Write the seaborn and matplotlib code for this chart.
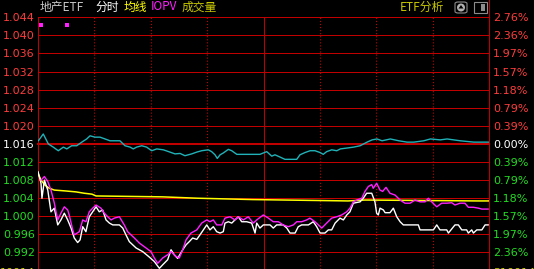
import matplotlib
matplotlib.use("Agg")
import matplotlib.pyplot as plt
import seaborn as sns
from matplotlib.patches import FancyBboxPatch, Rectangle, Ellipse, Polygon
from matplotlib.lines import Line2D

# ---------------- data ----------------
prev_close = 1.016
grid_levels = [0.992, 0.996, 1.000, 1.004, 1.008, 1.012, 1.016,
               1.020, 1.024, 1.028, 1.032, 1.036, 1.040, 1.044]
left_labels = ["0.992", "0.996", "1.000", "1.004", "1.008", "1.012", "1.016",
               "1.020", "1.024", "1.028", "1.032", "1.036", "1.040", "1.044"]
right_labels = ["2.36%", "1.97%", "1.57%", "1.18%", "0.79%", "0.39%", "0.00%",
                "0.39%", "0.79%", "1.18%", "1.57%", "1.97%", "2.36%", "2.76%"]
half_hour_marks = [30, 60, 90, 150, 180, 210]
midday_mark = 120

price_min = [0, 1.6, 2.1, 3.4, 5.2, 6.9, 8.7, 10.5, 12.2, 14,
             15.8, 17.6, 19.3, 21.1, 22.4, 23.8, 25.5, 27.3, 29.1, 30.9,
             32.6, 34.4, 36.2, 38, 39.8, 43.3, 45.1, 46.8, 48.6, 52.2,
             55.7, 59.2, 61.9, 64.6, 66.4, 69, 70.8, 72.5, 74.3, 77,
             78.8, 80.5, 82.3, 84.5, 86.2, 88, 89.8, 91.5, 93.3, 95.1,
             96.9, 98.6, 99.5, 101.3, 103.1, 104.8, 106.6, 108.4, 111.1, 113.7,
             115.5, 116.4, 118.1, 119.9, 123.5, 125.2, 127, 130.5, 132.4, 134.1,
             136.8, 138.5, 140.3, 143.9, 146.5, 148.3, 150.1, 152.7, 154.5, 156.3,
             158.1, 160.7, 162.5, 164.3, 166, 167.8, 171.4, 173.1, 174.9, 177.6,
             179.3, 180.2, 181.1, 182, 183.8, 184.7, 187.3, 189.1, 190.9, 192.7,
             194.4, 202.4, 203.3, 210.4, 212.2, 213.9, 217.5, 218.4, 221.9, 223.7,
             225.5, 228.1, 229, 230.8, 231.7, 233.5, 236.2, 237.9, 239.7]
price_val = [1.0099, 1.0073, 1.0040, 1.0080, 1.0058, 1.0010, 1.0018, 0.9981, 0.9992, 1.0007,
             0.9992, 0.9974, 0.9952, 0.9942, 0.9948, 0.9977, 0.9966, 0.9999, 1.0010, 1.0021,
             1.0010, 1.0014, 0.9992, 0.9985, 0.9981, 0.9981, 0.9974, 0.9959, 0.9944, 0.9930,
             0.9922, 0.9910, 0.9900, 0.9885, 0.9893, 0.9904, 0.9926, 0.9915, 0.9907, 0.9926,
             0.9937, 0.9944, 0.9952, 0.9949, 0.9959, 0.9970, 0.9981, 0.9970, 0.9977, 0.9966,
             0.9963, 0.9966, 0.9985, 0.9988, 0.9985, 0.9992, 0.9999, 0.9988, 0.9988, 0.9985,
             0.9963, 0.9985, 0.9974, 0.9981, 0.9981, 0.9974, 0.9981, 0.9981, 0.9974, 0.9963,
             0.9963, 0.9977, 0.9981, 0.9981, 0.9988, 0.9977, 0.9963, 0.9963, 0.9970, 0.9970,
             0.9985, 0.9996, 0.9992, 1.0003, 1.0010, 1.0029, 1.0032, 1.0040, 1.0051, 1.0051,
             1.0032, 1.0007, 1.0003, 1.0018, 1.0014, 1.0008, 1.0008, 1.0018, 0.9999, 0.9988,
             0.9981, 0.9981, 0.9970, 0.9970, 0.9981, 0.9970, 0.9970, 0.9963, 0.9981, 0.9981,
             0.9970, 0.9970, 0.9963, 0.9970, 0.9963, 0.9970, 0.9970, 0.9981, 0.9981]

iopv_min = [1.6, 3.4, 5.2, 6.9, 8.7, 9.6, 10.5, 12.2, 14, 15.8,
            16.6, 18.5, 19.3, 22, 23.8, 25.5, 27.3, 29.1, 30.9, 33.5,
            35.3, 37.1, 38.9, 40.6, 43.3, 45.9, 47.7, 51.3, 53.9, 57.5,
            60.1, 61.9, 63.7, 66.4, 69, 70.8, 73.5, 75.2, 77, 78.8,
            81.4, 84.5, 87.1, 89.8, 91.5, 93.3, 95.1, 97.8, 99.5, 102.2,
            104.8, 106.6, 109.3, 111.9, 114.6, 116.4, 119.9, 122.6, 125.2, 127.9,
            130.5, 133.2, 135.9, 137.7, 140.3, 143, 144.7, 147.4, 149.2, 151,
            153.6, 156.3, 159, 161.6, 164.3, 166, 167.8, 169.6, 172.3, 174,
            175.8, 177.6, 178.4, 180.2, 182, 183.4, 185.2, 187.3, 190, 192.7,
            195.3, 198, 200.6, 203.3, 206, 207.7, 209.5, 212.2, 214.8, 217.5,
            220.2, 221.9, 224.6, 227.2, 229, 231.7, 234.4, 236.2, 239.7]
iopv_val = [1.0080, 1.0088, 1.0077, 1.0058, 1.0029, 1.0010, 0.9992, 1.0007, 1.0021, 1.0014,
            1.0003, 0.9970, 0.9959, 0.9966, 0.9992, 0.9988, 1.0010, 1.0018, 1.0025, 1.0018,
            1.0007, 0.9999, 0.9992, 0.9996, 0.9999, 0.9981, 0.9966, 0.9952, 0.9941, 0.9930,
            0.9922, 0.9908, 0.9896, 0.9908, 0.9915, 0.9922, 0.9911, 0.9908, 0.9926, 0.9948,
            0.9963, 0.9970, 0.9985, 0.9992, 0.9988, 0.9992, 0.9981, 0.9981, 0.9996, 0.9999,
            0.9992, 0.9999, 0.9992, 0.9999, 0.9985, 0.9992, 1.0003, 0.9996, 0.9988, 0.9988,
            0.9981, 0.9977, 0.9981, 0.9988, 0.9988, 0.9992, 0.9996, 0.9988, 0.9981, 0.9974,
            0.9985, 0.9996, 0.9999, 1.0003, 1.0010, 1.0018, 1.0032, 1.0036, 1.0040, 1.0055,
            1.0066, 1.0070, 1.0062, 1.0073, 1.0058, 1.0055, 1.0064, 1.0051, 1.0047, 1.0036,
            1.0029, 1.0029, 1.0036, 1.0032, 1.0032, 1.0040, 1.0032, 1.0021, 1.0029, 1.0029,
            1.0030, 1.0025, 1.0029, 1.0029, 1.0020, 1.0020, 1.0018, 1.0016, 1.0016]

avg_min = [0, 1.6, 3.7, 6.0, 8.7, 14.9, 20.2, 24.6, 28.7, 30.9, 66.4, 85.0,
           114.4, 165.0, 174.0, 233.6, 240]
avg_val = [1.0095, 1.0080, 1.0069, 1.0062, 1.0058, 1.0056, 1.0054, 1.0051, 1.0049,
           1.0045, 1.0043, 1.0040, 1.0037, 1.0034, 1.0036, 1.0034, 1.0034]

bench_min = [0.2, 2.8, 5.5, 8.1, 10.8, 13.5, 15.3, 17.9, 20.6, 23.3,
             25.9, 27.7, 30.3, 33, 35.7, 38.3, 43.6, 46.3, 49, 50.7,
             52.5, 55.2, 57.8, 60.5, 63.2, 66.7, 70.2, 72.9, 75.6, 78.2,
             81.8, 84.5, 87.1, 90.6, 92.4, 94.2, 95.4, 96.9, 98.6, 101.3,
             103.1, 105.8, 118.1, 119.9, 121.7, 124.4, 126.1, 128.8, 131.4, 137.7,
             139.4, 142.1, 144.8, 147.4, 150.1, 151.8, 153.6, 156.3, 159, 160.9,
             164.5, 168, 171.4, 175.1, 177.8, 180.4, 183.1, 187.5, 192, 196.4,
             200, 205.3, 208.8, 214.1, 217.7, 224.7, 231.9, 239.9]
bench_val = [1.0167, 1.0182, 1.0160, 1.0153, 1.0145, 1.0153, 1.0149, 1.0156, 1.0156, 1.0164,
             1.0171, 1.0178, 1.0175, 1.0175, 1.0171, 1.0167, 1.0167, 1.0156, 1.0153, 1.0149,
             1.0153, 1.0156, 1.0153, 1.0145, 1.0149, 1.0147, 1.0142, 1.0138, 1.0139, 1.0134,
             1.0138, 1.0142, 1.0145, 1.0147, 1.0143, 1.0136, 1.0128, 1.0136, 1.0140, 1.0148,
             1.0145, 1.0137, 1.0137, 1.0140, 1.0143, 1.0133, 1.0136, 1.0131, 1.0126, 1.0126,
             1.0136, 1.0141, 1.0145, 1.0145, 1.0141, 1.0137, 1.0143, 1.0147, 1.0145, 1.0149,
             1.0151, 1.0153, 1.0156, 1.0164, 1.0169, 1.0171, 1.0167, 1.0171, 1.0167, 1.0164,
             1.0164, 1.0167, 1.0171, 1.0169, 1.0171, 1.0167, 1.0164, 1.0164]

marker_min = [1.6, 15.4]
marker_val = [1.0423, 1.0423]

# ---------------- style ----------------
sns.set_theme(style="dark")
plt.rcParams["font.family"] = ["Noto Sans CJK SC", "DejaVu Sans"]
plt.rcParams["lines.scale_dashes"] = False

GRID_RED = "#C00000"
TXT_RED = "#FF3C3C"
TXT_GREEN = "#22DD22"
W, H = 534, 269
left_px, right_px, top_px = 38, 489, 17.3
px_per_unit = 4523.0
ymax = 1.044
ymin = ymax - (H - top_px) / px_per_unit

fig = plt.figure(figsize=(W / 100, H / 100), dpi=100, facecolor="black")
ax = fig.add_axes([left_px / W, 0, (right_px - left_px) / W, (H - top_px) / H])
ax.set_facecolor("black")
ax.set_xlim(0, 240)
ax.set_ylim(ymin, ymax)

for v in grid_levels:
    lw = 1.3 if abs(v - prev_close) < 1e-9 else 0.6
    ax.axhline(v, color=GRID_RED, lw=lw, zorder=1, clip_on=False, antialiased=False)
for m in half_hour_marks:
    ax.axvline(m, color=GRID_RED, lw=0.8, ls=(0, (0.8, 1.4)), zorder=1)
ax.axvline(midday_mark, color=GRID_RED, lw=0.6, zorder=1, antialiased=False)

sns.lineplot(x=bench_min, y=bench_val, color="#20B2B8", lw=1.0, ax=ax, legend=False, zorder=3)
sns.lineplot(x=avg_min, y=avg_val, color="#FFFF00", lw=1.1, ax=ax, legend=False, zorder=3)
sns.lineplot(x=price_min, y=price_val, color="#FFFFFF", lw=1.0, ax=ax, legend=False, zorder=4)
sns.lineplot(x=iopv_min, y=iopv_val, color="#FF20FF", lw=1.0, ax=ax, legend=False, zorder=5)
sns.scatterplot(x=marker_min, y=marker_val, color="#FF20FF", marker="s", s=6, linewidth=0,
                ax=ax, legend=False, zorder=5)

ax.set_xlabel("")
ax.set_ylabel("")
ax.set_xticks([])
ax.grid(False)
for side in ["left", "right", "top"]:
    ax.spines[side].set_visible(True)
    ax.spines[side].set_color(GRID_RED)
    ax.spines[side].set_linewidth(0.6)
    ax.spines[side].set_antialiased(False)
ax.spines["bottom"].set_visible(False)

def level_color(v):
    if abs(v - prev_close) < 1e-9:
        return "#FFFFFF"
    return TXT_RED if v > prev_close else TXT_GREEN

ax.set_yticks(grid_levels)
ax.set_yticklabels(left_labels, fontfamily="DejaVu Sans")
ax.tick_params(axis="y", length=0, pad=2.2, labelsize=8)
for lab, v in zip(ax.get_yticklabels(), grid_levels):
    lab.set_color(level_color(v))

ax2 = ax.twinx()
ax2.set_ylim(ymin, ymax)
ax2.set_yticks(grid_levels)
ax2.set_yticklabels(right_labels, fontfamily="DejaVu Sans")
ax2.tick_params(axis="y", length=0, pad=2.9, labelsize=8)
for lab, v in zip(ax2.get_yticklabels(), grid_levels):
    lab.set_color(level_color(v))
ax2.grid(False)
for s in ax2.spines.values():
    s.set_visible(False)
ax2.set_facecolor("none")

# right border extends up to the top
fig.add_artist(Line2D([right_px / W, right_px / W], [1, 1 - top_px / H],
                      color=GRID_RED, lw=0.6, antialiased=False, transform=fig.transFigure))

# ---------------- header texts ----------------
def fx(x):
    return x / W

def fy(y):
    return 1 - y / H

ty = fy(7)
fig.text(fx(40), ty, "地产ETF", color="#C8C8C8", fontsize=8.5, va="center")
fig.text(fx(95), ty, "分时", color="#FFFFFF", fontsize=8.5, va="center")
fig.text(fx(124), ty, "均线", color="#FFFF00", fontsize=8.5, va="center")
fig.text(fx(151), ty, "IOPV", color="#FF20FF", fontsize=8.5, va="center")
fig.text(fx(182), ty, "成交量", color="#C8C800", fontsize=8.5, va="center")
fig.text(fx(400), ty, "ETF分析", color="#C8C800", fontsize=8.5, va="center")

# icons
fig.add_artist(FancyBboxPatch((fx(455), fy(13)), 12 / W, 11 / H,
                              boxstyle="round,pad=0,rounding_size=0.006",
                              ec="#8C8C8C", fc="none", lw=0.8, transform=fig.transFigure))
fig.add_artist(Ellipse((fx(461), fy(7.5)), 8 / W, 8 / H, fc="#B0B0B0", ec="none",
                       transform=fig.transFigure))
fig.add_artist(Polygon([(fx(458.5), fy(8.5)), (fx(463.5), fy(8.5)), (fx(461), fy(5))],
                       closed=True, fc="black", ec="none", transform=fig.transFigure))
fig.add_artist(Rectangle((fx(474), fy(13)), 13 / W, 11 / H, ec="#8C8C8C", fc="none",
                         lw=0.8, transform=fig.transFigure))
fig.add_artist(Rectangle((fx(481), fy(11)), 4 / W, 7 / H, ec="none", fc="#8C8C8C",
                         transform=fig.transFigure))

# labels of the next pane, cut by the bottom edge (as in the reference)
fig.text(fx(35), fy(273), "10014", color="#C8C800", fontsize=8, ha="right", va="center",
         fontfamily="DejaVu Sans")
fig.text(fx(493), fy(273), "310014", color="#C8C800", fontsize=8, ha="left", va="center",
         fontfamily="DejaVu Sans")

fig.savefig("out.png", dpi=100, facecolor="black")
